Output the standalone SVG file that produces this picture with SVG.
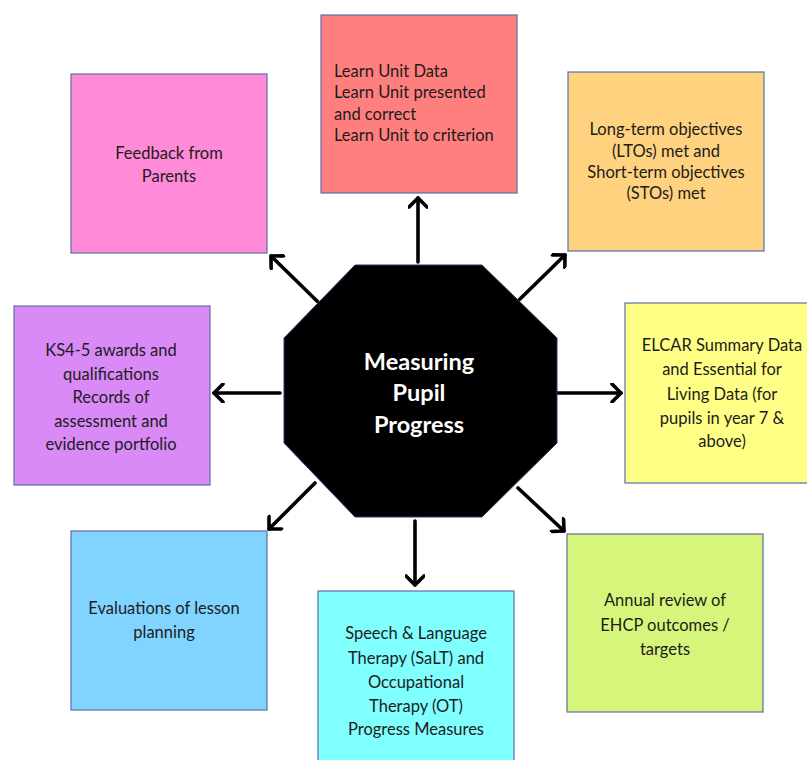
<svg xmlns="http://www.w3.org/2000/svg" width="807" height="760" viewBox="0 0 807 760">
<style>
.box{stroke:#5a6fa6;stroke-width:1.2}
.t{font-family:Lato,"Open Sans","Liberation Sans",sans-serif;font-size:16.5px;fill:#1c1c1c}
.c{text-anchor:middle}
.hub{font-family:Lato,"Open Sans","Liberation Sans",sans-serif;font-size:23.5px;font-weight:bold;fill:#ffffff;text-anchor:middle}
.arr{stroke:#000;stroke-width:3.6;stroke-linecap:round;fill:none;marker-end:url(#ah)}
</style>
<defs>
<marker id="ah" viewBox="0 0 20 20" refX="17" refY="10" markerWidth="20" markerHeight="20" markerUnits="userSpaceOnUse" orient="auto">
<path d="M8,1 L17,10 L8,19" fill="none" stroke="#000" stroke-width="3.6" stroke-linecap="round" stroke-linejoin="round"/>
</marker>
</defs>
<rect width="807" height="760" fill="#fff"/>
<g id="connectors">
<line class="arr" x1="418" y1="262" x2="418" y2="198"/>
<line class="arr" x1="318" y1="302" x2="271" y2="256"/>
<line class="arr" x1="519" y1="300" x2="565" y2="255"/>
<line class="arr" x1="280" y1="393" x2="214" y2="393"/>
<line class="arr" x1="555" y1="393" x2="621" y2="393"/>
<line class="arr" x1="315" y1="483" x2="269" y2="529"/>
<line class="arr" x1="518" y1="488" x2="564" y2="531"/>
<line class="arr" x1="415" y1="521" x2="415" y2="585"/>
</g>
<g id="hub">
<polygon points="355,265 482,265 557,338 557,443 482,517 355,517 284,443 284,338" fill="#000" stroke="#2a3a6a" stroke-width="1"/>
<text class="hub" x="419" y="370">Measuring</text>
<text class="hub" x="419" y="401">Pupil</text>
<text class="hub" x="419" y="433">Progress</text>
</g>
<g id="learn-unit">
<rect class="box" x="321" y="15" width="196" height="178" fill="#ff7f7f"/>
<text class="t" x="334" y="77">Learn Unit Data</text>
<text class="t" x="334" y="98">Learn Unit presented</text>
<text class="t" x="334" y="120">and correct</text>
<text class="t" x="334" y="141">Learn Unit to criterion</text>
</g>
<g id="feedback">
<rect class="box" x="71" y="74" width="196" height="179" fill="#ff8ad8"/>
<text class="t c" x="169" y="159">Feedback from</text>
<text class="t c" x="169" y="182">Parents</text>
</g>
<g id="objectives">
<rect class="box" x="568" y="72" width="196" height="179" fill="#ffd27f"/>
<text class="t c" x="666" y="135">Long-term objectives</text>
<text class="t c" x="666" y="157">(LTOs) met and</text>
<text class="t c" x="666" y="178">Short-term objectives</text>
<text class="t c" x="666" y="199">(STOs) met</text>
</g>
<g id="elcar">
<rect class="box" x="625" y="303" width="196" height="180" fill="#ffff85"/>
<text class="t c" x="722" y="351">ELCAR Summary Data</text>
<text class="t c" x="722" y="375">and Essential for</text>
<text class="t c" x="722" y="400">Living Data (for</text>
<text class="t c" x="722" y="424">pupils in year 7 &amp;</text>
<text class="t c" x="722" y="447">above)</text>
</g>
<g id="annual-review">
<rect class="box" x="567" y="534" width="196" height="178" fill="#d6f57a"/>
<text class="t c" x="665" y="606">Annual review of</text>
<text class="t c" x="665" y="631">EHCP outcomes /</text>
<text class="t c" x="665" y="655">targets</text>
</g>
<g id="salt-ot">
<rect class="box" x="318" y="591" width="196" height="180" fill="#80ffff"/>
<text class="t c" x="416" y="639">Speech &amp; Language</text>
<text class="t c" x="416" y="664">Therapy (SaLT) and</text>
<text class="t c" x="416" y="688">Occupational</text>
<text class="t c" x="416" y="712">Therapy (OT)</text>
<text class="t c" x="416" y="735">Progress Measures</text>
</g>
<g id="lesson-planning">
<rect class="box" x="71" y="531" width="196" height="179" fill="#80d4ff"/>
<text class="t c" x="164" y="614">Evaluations of lesson</text>
<text class="t c" x="164" y="638">planning</text>
</g>
<g id="ks4-5">
<rect class="box" x="14" y="306" width="196" height="179" fill="#d98af6"/>
<text class="t c" x="111" y="356">KS4-5 awards and</text>
<text class="t c" x="111" y="380">qualifications</text>
<text class="t c" x="111" y="403">Records of</text>
<text class="t c" x="111" y="427">assessment and</text>
<text class="t c" x="111" y="450">evidence portfolio</text>
</g>
</svg>
